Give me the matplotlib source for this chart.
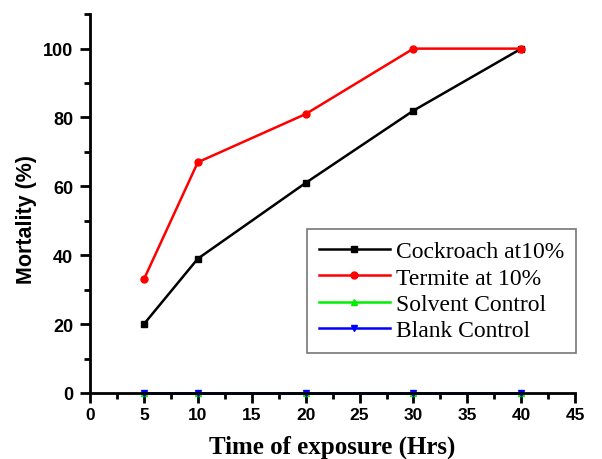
import matplotlib
matplotlib.use("Agg")
import matplotlib.pyplot as plt
from matplotlib.ticker import MultipleLocator

# Data
hours = [5, 10, 20, 30, 40]
cockroach = [20, 39, 61, 82, 100]
termite = [33, 67, 81, 100, 100]
solvent = [0, 0, 0, 0, 0]
blank = [0, 0, 0, 0, 0]

fig = plt.figure(figsize=(6.02, 4.60), dpi=100)
ax = fig.add_axes([0.1495, 0.1435, 0.806, 0.8235])

ax.plot(hours, cockroach, color="black", marker="s", markersize=5, lw=1.8,
        label="Cockroach at10%", clip_on=False)
ax.plot(hours, termite, color="red", marker="o", markersize=5, lw=1.8,
        label="Termite at 10%", clip_on=False)
ax.plot(hours, solvent, color="#00ee00", marker="^", markersize=5, lw=1.8,
        label="Solvent Control", clip_on=False)
ax.plot(hours, blank, color="blue", marker="v", markersize=5, lw=1.8,
        label="Blank Control", clip_on=False)

ax.set_xlim(0, 45)
ax.set_ylim(0, 110)
ax.xaxis.set_major_locator(MultipleLocator(5))
ax.xaxis.set_minor_locator(MultipleLocator(2.5))
ax.yaxis.set_major_locator(MultipleLocator(20))
ax.yaxis.set_minor_locator(MultipleLocator(10))

for s in ["top", "right"]:
    ax.spines[s].set_visible(False)
for s in ["left", "bottom"]:
    ax.spines[s].set_linewidth(2)

ax.tick_params(which="major", direction="out", length=7, width=2, labelsize=12.5)
ax.tick_params(which="minor", direction="out", length=4, width=2)
ax.tick_params(axis="x", which="major", pad=3)
ax.tick_params(axis="y", which="major", pad=5, labelsize=13)
for lab in ax.get_xticklabels() + ax.get_yticklabels():
    lab.set_fontweight("bold")
    lab.set_family("Liberation Sans")

ax.set_ylabel("Mortality (%)", fontsize=15.5, fontweight="bold", family="Liberation Sans")
ax.yaxis.set_label_coords(-0.11, 0.46)
ax.set_xlabel("Time of exposure (Hrs)", fontsize=18, fontweight="bold",
              family="Liberation Serif", va="center")
ax.xaxis.set_label_coords(0.5, -0.14)

leg = ax.legend(loc="upper left", bbox_to_anchor=(307 / 602, 1 - 230 / 460),
                bbox_transform=fig.transFigure, prop={"family": "Liberation Serif", "size": 17},
                handlelength=3.0, handletextpad=0.25, fancybox=False, framealpha=1,
                borderpad=0.5, labelspacing=0.2, borderaxespad=0)
leg.get_frame().set_edgecolor("#777777")
leg.get_frame().set_linewidth(1.2)

fig.savefig("out.png", dpi=100)
